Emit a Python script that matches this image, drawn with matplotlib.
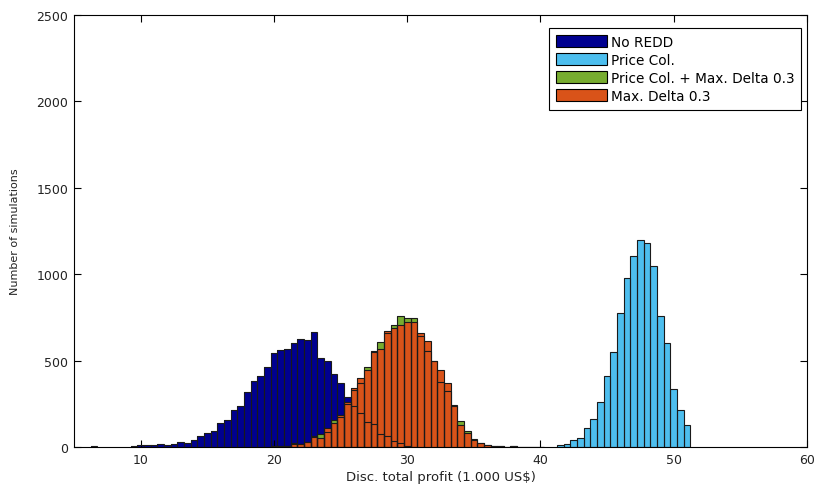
import numpy as np
import matplotlib.pyplot as plt
from matplotlib.patches import Patch

plt.rcParams['font.family'] = ['DejaVu Sans']

# histogram bins are 0.5 wide, centres on whole and half values
no_redd_x = [6.5] + [9.5 + 0.5 * i for i in range(43)]
no_redd = [5, 4, 10, 10, 10, 15, 12, 17, 27, 24, 41, 65, 83, 93, 139, 155,
           212, 240, 316, 381, 408, 464, 544, 560, 569, 602, 625, 621, 663,
           513, 495, 422, 371, 292, 238, 195, 147, 132, 73, 62, 33, 21, 6, 2]

price_x = [41.5 + 0.5 * i for i in range(20)]
price = [10, 15, 39, 50, 112, 162, 259, 410, 551, 776, 979, 1108, 1199, 1182,
         1046, 758, 602, 338, 213, 130]

delta_x = [20.0 + 0.5 * i for i in range(41)]
delta = [4, 5, 8, 15, 19, 31, 56, 52, 112, 139, 183, 260, 344, 398, 447, 557,
         569, 669, 689, 708, 721, 721, 660, 611, 499, 445, 373, 244, 128, 79,
         44, 25, 10, 6, 6, 2, 6, 2, 1, 0, 2]
price_delta = [4, 5, 8, 21, 19, 31, 62, 77, 85, 157, 175, 250, 331, 373, 462,
               550, 607, 660, 704, 760, 747, 747, 644, 553, 495, 379, 325, 240,
               151, 95, 40, 22, 9, 5, 5, 2, 5, 2, 1, 0, 2]

series = [
    ('No REDD', no_redd_x, no_redd, '#000090'),
    ('Price Col.', price_x, price, '#4DBEEE'),
    ('Price Col. + Max. Delta 0.3', delta_x, price_delta, '#77AC30'),
    ('Max. Delta 0.3', delta_x, delta, '#D95319'),
]

fig = plt.figure(figsize=(8.17, 4.85), dpi=100)
ax = fig.add_axes([0.0906, 0.0763, 0.8972, 0.8907])

for i, (name, xs, ys, col) in enumerate(series):
    ax.bar(xs, ys, width=0.5, color=col, edgecolor='none', zorder=1 + i)
# outlines of every bar sit above all faces
for name, xs, ys, col in series:
    ax.bar(xs, ys, width=0.5, fill=False, edgecolor='#1a1a1a', linewidth=0.8, zorder=10)

ax.set_xlim(5, 60)
ax.set_ylim(0, 2500)
ax.set_xticks([10, 20, 30, 40, 50, 60])
ax.set_yticks([0, 500, 1000, 1500, 2000, 2500])
ax.tick_params(direction='in', top=True, right=True, length=5, width=0.8,
               labelsize=9, pad=4, labelcolor='#222222')
for s in ax.spines.values():
    s.set_linewidth(0.8)

ax.set_xlabel('Disc. total profit (1.000 US$)', fontsize=9.5, labelpad=3, color='#222222')
ax.set_ylabel('Number of simulations', fontsize=8, labelpad=12, color='#222222')

handles = [Patch(facecolor=c, edgecolor='k', linewidth=0.8) for _, _, _, c in series]
leg = ax.legend(handles, [s[0] for s in series], loc='upper right',
                bbox_to_anchor=(0.992, 0.970), borderaxespad=0, fancybox=False,
                framealpha=1, edgecolor='k', fontsize=9.8, handlelength=3.7,
                handleheight=1.0, labelspacing=0.3, handletextpad=0.3,
                borderpad=0.5)
leg.get_frame().set_linewidth(0.8)

fig.savefig('out.png', dpi=100)
